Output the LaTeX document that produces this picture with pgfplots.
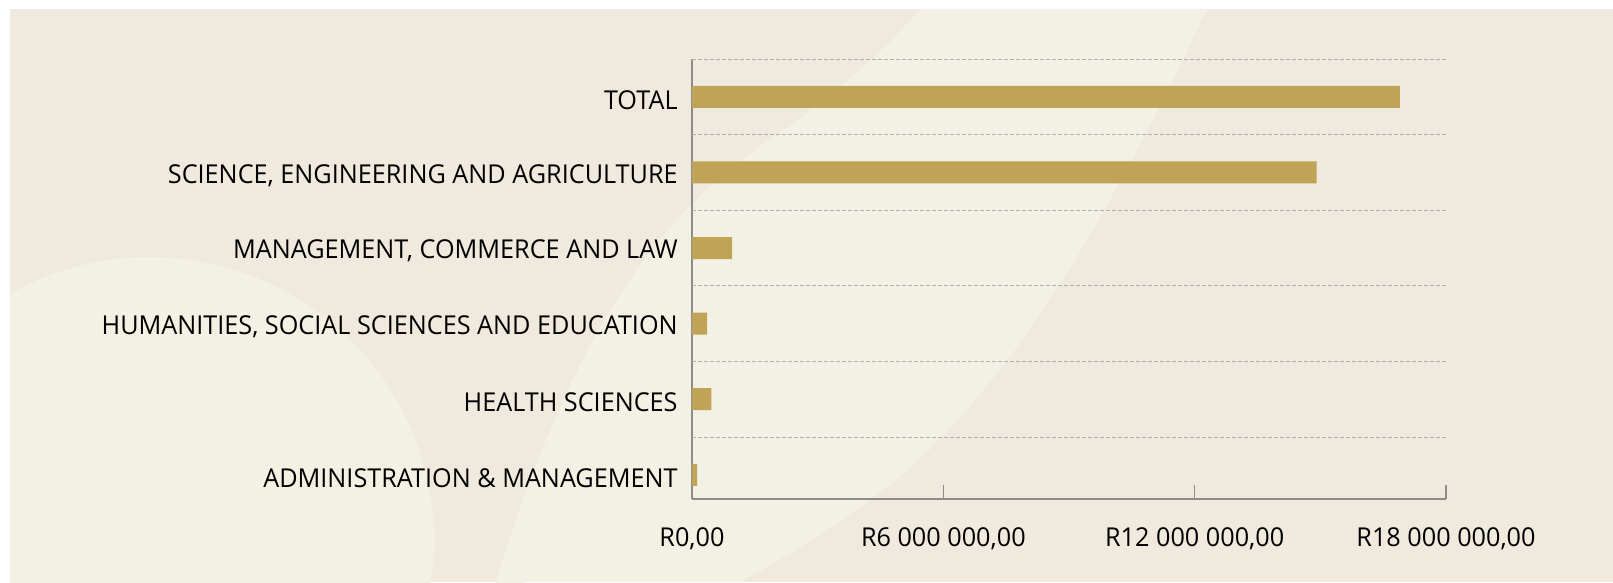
\documentclass[border=0pt]{standalone}
\usepackage{pgfplots}
\pgfplotsset{compat=1.18}
\usepackage{fontspec}
\setmainfont{Open Sans}[FakeStretch=0.97]
\definecolor{bgdark}{RGB}{240,234,222}
\definecolor{bglight}{RGB}{243,240,228}
\definecolor{gold}{RGB}{191,163,86}
\definecolor{axgray}{RGB}{140,140,140}
\definecolor{gridgray}{RGB}{175,175,175}
\begin{document}
\begin{tikzpicture}
% background (1px = 0.5pt, origin at top-left, y downwards)
\begin{scope}[x=0.5pt,y=-0.5pt]
\useasboundingbox (0,0) rectangle (1613,583);
\fill[white] (0,0) rectangle (1613,583);
\fill[bgdark] (10,9) rectangle (1613,582);
\begin{scope}
\clip (10,9) rectangle (1613,582);
\fill[bglight] (150,541) circle (284);
\fill[bglight] (525,582) arc[start angle=6.4, end angle=38.4, radius=377]
  .. controls (560,265) and (700,190) .. (800,118)
  .. controls (850,80) and (890,45) .. (920,9)
  -- (1207,9) .. controls (1140,150) and (1050,330) .. (933,446)
  .. controls (880,500) and (800,550) .. (740,582) -- cycle;
\end{scope}
\end{scope}
\begin{axis}[
  at={(346pt,-249.5pt)}, anchor=south west,
  scale only axis, width=377pt, height=220pt,
  xbar, bar width=11pt,
  xmin=0, xmax=18000000, ymin=-0.32, ymax=5.5,
  axis x line*=bottom, axis y line*=left,
  axis line style={axgray, line width=0.75pt, -},
  xtick={0,6000000,12000000,18000000},
  xticklabels={{R0,00},{R6 000 000,00},{R12 000 000,00},{R18 000 000,00}},
  scaled x ticks=false,
  xtick style={axgray, line width=0.75pt},
  major tick length=7pt,
  xticklabel style={inner sep=0pt, anchor=north, yshift=-14pt, font=\fontsize{13}{15}\selectfont},
  ytick={0,1,2,3,4,5},
  yticklabels={{ADMINISTRATION \& MANAGEMENT},{HEALTH SCIENCES},{HUMANITIES, SOCIAL SCIENCES AND EDUCATION},{MANAGEMENT, COMMERCE AND LAW},{SCIENCE, ENGINEERING AND AGRICULTURE},{TOTAL}},
  ytick style={draw=none},
  yticklabel style={inner sep=0pt, anchor=east, xshift=0pt, yshift=-1.5pt, font=\fontsize{13}{15}\selectfont},
  extra y ticks={0.5,1.5,2.5,3.5,4.5,5.5},
  extra y tick labels={},
  extra y tick style={grid=major, major grid style={gridgray, line width=0.5pt, dash pattern=on 2pt off 1pt}, tick style={draw=none}},
  clip=false,
]
\addplot[fill=gold, draw=none] coordinates {
  (120000,0) (460000,1) (360000,2) (960000,3) (14910000,4) (16900000,5)
};
\end{axis}
\end{tikzpicture}
\end{document}
